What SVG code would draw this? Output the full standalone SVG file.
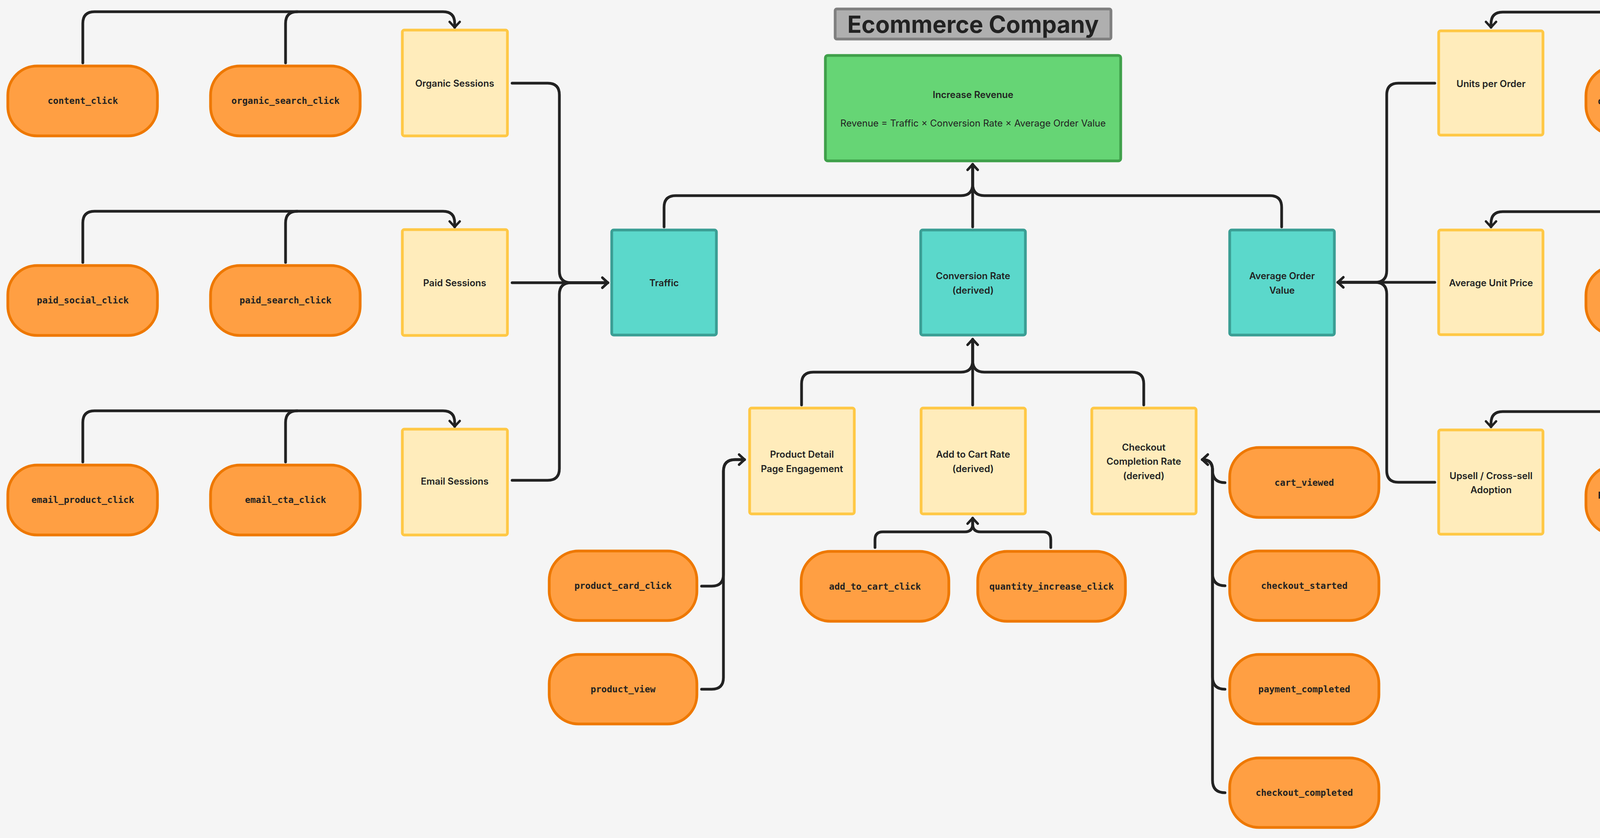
<svg xmlns="http://www.w3.org/2000/svg" width="4998" height="2146" viewBox="0 0 4998 2146">
<style>
.pill{fill:#FF9F43;stroke:#EE7800;stroke-width:7}
.yel{fill:#FFECBB;stroke:#FFC845;stroke-width:7}
.teal{fill:#5BD8CB;stroke:#3A9E94;stroke-width:7}
.pt{font-family:"DejaVu Sans Mono","Liberation Mono",monospace;font-weight:bold;font-size:23px;fill:#222;text-anchor:middle;dominant-baseline:central}
.bt{font-family:Inter,"Liberation Sans",sans-serif;font-weight:600;font-size:24px;fill:#222;text-anchor:middle;dominant-baseline:central}
.ln{fill:none;stroke:#222;stroke-width:7;stroke-linecap:round;marker-end:url(#ah)}
.ln2{fill:none;stroke:#222;stroke-width:7;stroke-linecap:round}
</style>
<defs>
<marker id="ah" markerUnits="userSpaceOnUse" markerWidth="40" markerHeight="40" refX="18" refY="15" orient="auto" viewBox="0 0 40 30">
<path d="M4,2 L18,15 L4,28" fill="none" stroke="#222" stroke-width="6" stroke-linecap="round" stroke-linejoin="round"/>
</marker>
</defs>
<rect width="4998" height="2146" fill="#F5F5F5"/>

<g id="connectors">
<path class="ln" d="M212,161 V60 Q212,30 242,30 H1134 Q1164,30 1164,60 V70"/>
<path class="ln2" d="M731,161 V60 Q731,30 761,30"/>
<path class="ln" d="M212,672 V571 Q212,541 242,541 H1134 Q1164,541 1164,571 V581"/>
<path class="ln2" d="M731,672 V571 Q731,541 761,541"/>
<path class="ln" d="M212,1183 V1082 Q212,1052 242,1052 H1134 Q1164,1052 1164,1082 V1092"/>
<path class="ln2" d="M731,1183 V1082 Q731,1052 761,1052"/>
<path class="ln" d="M1311,213 H1402 Q1432,213 1432,243 V694 Q1432,724 1462,724 H1556"/>
<path class="ln" d="M1311,724 H1556"/>
<path class="ln" d="M1311,1230 H1402 Q1432,1230 1432,1200 V754 Q1432,724 1462,724 H1556"/>
<path class="ln" d="M1700,581 V531 Q1700,501 1730,501 H2460 Q2490,501 2490,471 V421"/>
<path class="ln" d="M3281,581 V531 Q3281,501 3251,501 H2520 Q2490,501 2490,471 V421"/>
<path class="ln" d="M2490,581 V421"/>
<path class="ln" d="M2052,1037 V983 Q2052,953 2082,953 H2460 Q2490,953 2490,923 V869"/>
<path class="ln" d="M2928,1037 V983 Q2928,953 2898,953 H2520 Q2490,953 2490,923 V869"/>
<path class="ln" d="M2490,1037 V869"/>
<path class="ln" d="M2240,1402 V1382 Q2240,1362 2260,1362 H2470 Q2490,1362 2490,1342 V1327"/>
<path class="ln" d="M2690,1402 V1382 Q2690,1362 2670,1362 H2510 Q2490,1362 2490,1342 V1327"/>
<path class="ln" d="M1796,1501 H1822 Q1852,1501 1852,1471 V1207 Q1852,1177 1882,1177 H1906"/>
<path class="ln" d="M1796,1765 H1822 Q1852,1765 1852,1735 V1207 Q1852,1177 1882,1177 H1906"/>
<path class="ln" d="M3136,1236 Q3104,1236 3104,1204 V1203 Q3104,1177 3078,1177"/>
<path class="ln" d="M3136,1500 Q3104,1500 3104,1468 V1203 Q3104,1177 3078,1177"/>
<path class="ln" d="M3136,1765 Q3104,1765 3104,1733 V1203 Q3104,1177 3078,1177"/>
<path class="ln" d="M3136,2030 Q3104,2030 3104,1998 V1203 Q3104,1177 3078,1177"/>
<path class="ln" d="M3673,213 H3580 Q3550,213 3550,243 V693 Q3550,723 3520,723 H3425"/>
<path class="ln" d="M3673,723 H3425"/>
<path class="ln" d="M3673,1235 H3580 Q3550,1235 3550,1205 V753 Q3550,723 3520,723 H3425"/>
<path class="ln" d="M4770,161 V61 Q4770,31 4740,31 H3847 Q3817,31 3817,61 V70"/>
<path class="ln2" d="M4250,161 V61 Q4250,31 4220,31"/>
<path class="ln" d="M4770,672 V572 Q4770,542 4740,542 H3847 Q3817,542 3817,572 V581"/>
<path class="ln2" d="M4250,672 V572 Q4250,542 4220,542"/>
<path class="ln" d="M4770,1184 V1084 Q4770,1054 4740,1054 H3847 Q3817,1054 3817,1084 V1093"/>
<path class="ln2" d="M4250,1184 V1084 Q4250,1054 4220,1054"/>
</g>

<g id="title"><rect x="2138" y="23" width="706" height="77" rx="4" fill="#AFAFAF" stroke="#7F7F7F" stroke-width="7"/><text x="2491" y="62" style="font-family:Inter,'Liberation Sans',sans-serif;font-weight:bold;font-size:60px;fill:#222;text-anchor:middle;dominant-baseline:central">Ecommerce Company</text></g>
<g id="goal"><rect x="2113" y="142" width="756" height="270" rx="6" fill="#66D575" stroke="#3FA04A" stroke-width="7"/><text class="bt" x="2491" y="242">Increase Revenue</text><text class="bt" x="2491" y="315" style="font-weight:normal">Revenue = Traffic × Conversion Rate × Average Order Value</text></g>

<g id="traffic"><rect class="teal" x="1566" y="589" width="268" height="269" rx="5"/><text class="bt" x="1700" y="724">Traffic</text></g>
<g id="conversion"><rect class="teal" x="2357" y="589" width="268" height="269" rx="5"/><text class="bt" x="2491" y="706">Conversion Rate</text><text class="bt" x="2491" y="743">(derived)</text></g>
<g id="aov"><rect class="teal" x="3148" y="589" width="268" height="269" rx="5"/><text class="bt" x="3282" y="706">Average Order</text><text class="bt" x="3282" y="743">Value</text></g>

<g id="organic"><rect class="yel" x="1030" y="77" width="269" height="271" rx="5"/><text class="bt" x="1164" y="213">Organic Sessions</text></g>
<g id="paid"><rect class="yel" x="1030" y="588" width="269" height="271" rx="5"/><text class="bt" x="1164" y="724">Paid Sessions</text></g>
<g id="email"><rect class="yel" x="1030" y="1099" width="269" height="271" rx="5"/><text class="bt" x="1164" y="1232">Email Sessions</text></g>

<g id="content_click"><rect class="pill" x="20" y="169" width="383" height="179" rx="75"/><text class="pt" x="212" y="258">content_click</text></g>
<g id="organic_search_click"><rect class="pill" x="539" y="169" width="383" height="179" rx="75"/><text class="pt" x="731" y="258">organic_search_click</text></g>
<g id="paid_social_click"><rect class="pill" x="20" y="680" width="383" height="179" rx="75"/><text class="pt" x="212" y="769">paid_social_click</text></g>
<g id="paid_search_click"><rect class="pill" x="539" y="680" width="383" height="179" rx="75"/><text class="pt" x="731" y="769">paid_search_click</text></g>
<g id="email_product_click"><rect class="pill" x="20" y="1191" width="383" height="179" rx="75"/><text class="pt" x="212" y="1280">email_product_click</text></g>
<g id="email_cta_click"><rect class="pill" x="539" y="1191" width="383" height="179" rx="75"/><text class="pt" x="731" y="1280">email_cta_click</text></g>

<g id="pdp"><rect class="yel" x="1919" y="1045" width="268" height="271" rx="5"/><text class="bt" x="2053" y="1163">Product Detail</text><text class="bt" x="2053" y="1200">Page Engagement</text></g>
<g id="atc"><rect class="yel" x="2358" y="1045" width="267" height="271" rx="5"/><text class="bt" x="2491" y="1163">Add to Cart Rate</text><text class="bt" x="2491" y="1200">(derived)</text></g>
<g id="ccr"><rect class="yel" x="2795" y="1045" width="267" height="271" rx="5"/><text class="bt" x="2928" y="1145">Checkout</text><text class="bt" x="2928" y="1181">Completion Rate</text><text class="bt" x="2928" y="1218">(derived)</text></g>

<g id="product_card_click"><rect class="pill" x="1406" y="1411" width="378" height="178" rx="75"/><text class="pt" x="1595" y="1500">product_card_click</text></g>
<g id="product_view"><rect class="pill" x="1406" y="1676" width="378" height="178" rx="75"/><text class="pt" x="1595" y="1765">product_view</text></g>
<g id="add_to_cart_click"><rect class="pill" x="2051" y="1412" width="378" height="179" rx="75"/><text class="pt" x="2240" y="1502">add_to_cart_click</text></g>
<g id="quantity_increase_click_c"><rect class="pill" x="2503" y="1412" width="378" height="179" rx="75"/><text class="pt" x="2692" y="1502">quantity_increase_click</text></g>
<g id="cart_viewed"><rect class="pill" x="3148" y="1146" width="382" height="179" rx="75"/><text class="pt" x="3339" y="1236">cart_viewed</text></g>
<g id="checkout_started"><rect class="pill" x="3148" y="1411" width="382" height="178" rx="75"/><text class="pt" x="3339" y="1500">checkout_started</text></g>
<g id="payment_completed"><rect class="pill" x="3148" y="1676" width="382" height="178" rx="75"/><text class="pt" x="3339" y="1765">payment_completed</text></g>
<g id="checkout_completed"><rect class="pill" x="3148" y="1941" width="382" height="178" rx="75"/><text class="pt" x="3339" y="2030">checkout_completed</text></g>

<g id="units"><rect class="yel" x="3683" y="79" width="267" height="267" rx="5"/><text class="bt" x="3817" y="214">Units per Order</text></g>
<g id="aup"><rect class="yel" x="3683" y="589" width="267" height="268" rx="5"/><text class="bt" x="3817" y="724">Average Unit Price</text></g>
<g id="upsell"><rect class="yel" x="3683" y="1101" width="267" height="267" rx="5"/><text class="bt" x="3817" y="1218">Upsell / Cross-sell</text><text class="bt" x="3817" y="1254">Adoption</text></g>

<g id="quantity_increase_click"><rect class="pill" x="4060" y="170" width="380" height="176" rx="75"/><text class="pt" x="4250" y="259">quantity_increase_click</text></g>
<g id="bundle_option_selected"><rect class="pill" x="4580" y="170" width="381" height="176" rx="75"/><text class="pt" x="4770" y="259">bundle_option_selected</text></g>
<g id="variant_selected"><rect class="pill" x="4060" y="681" width="380" height="177" rx="75"/><text class="pt" x="4250" y="770">variant_selected</text></g>
<g id="upgrade_selected"><rect class="pill" x="4580" y="681" width="381" height="177" rx="75"/><text class="pt" x="4770" y="770">upgrade_selected</text></g>
<g id="product_recommendation_click"><rect class="pill" x="4060" y="1192" width="380" height="177" rx="75"/><text class="pt" x="4250" y="1264">product_recommendation_</text><text class="pt" x="4250" y="1300">click</text></g>
<g id="warranty_selected"><rect class="pill" x="4580" y="1192" width="381" height="177" rx="75"/><text class="pt" x="4770" y="1282">warranty_selected</text></g>
</svg>
